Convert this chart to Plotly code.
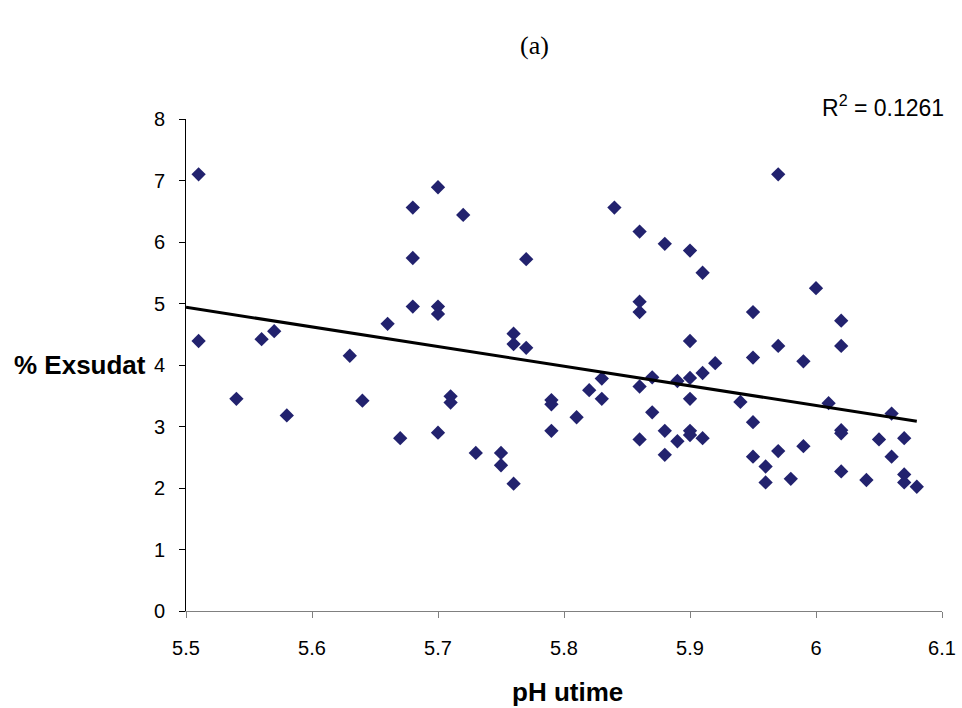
import numpy as np
import plotly.graph_objects as go

ph = [5.51, 5.51, 5.54, 5.56, 5.57, 5.58, 5.63, 5.64, 5.66, 5.67,
      5.68, 5.68, 5.68, 5.70, 5.70, 5.70, 5.70, 5.71, 5.71, 5.72,
      5.73, 5.75, 5.75, 5.76, 5.76, 5.76, 5.77, 5.77, 5.79, 5.79,
      5.79, 5.81, 5.82, 5.83, 5.83, 5.84, 5.86, 5.86, 5.86, 5.86,
      5.86, 5.87, 5.87, 5.88, 5.88, 5.88, 5.89, 5.89, 5.90, 5.90,
      5.90, 5.90, 5.90, 5.90, 5.91, 5.91, 5.91, 5.92, 5.94, 5.95,
      5.95, 5.95, 5.95, 5.96, 5.96, 5.97, 5.97, 5.97, 5.98, 5.99,
      5.99, 6.00, 6.01, 6.02, 6.02, 6.02, 6.02, 6.02, 6.04, 6.05,
      6.06, 6.06, 6.07, 6.07, 6.07, 6.08]
exsudat = [7.10, 4.39, 3.45, 4.42, 4.55, 3.18, 4.15, 3.42, 4.67, 2.81,
           6.56, 5.74, 4.95, 6.89, 4.95, 4.83, 2.90, 3.49, 3.39, 6.44,
           2.57, 2.57, 2.37, 4.51, 4.34, 2.07, 5.72, 4.28, 3.43, 3.36,
           2.93, 3.15, 3.59, 3.78, 3.45, 6.56, 6.17, 5.03, 4.86, 3.65,
           2.79, 3.80, 3.23, 5.97, 2.93, 2.54, 3.74, 2.76, 5.86, 4.39,
           3.79, 3.45, 2.93, 2.86, 5.50, 3.87, 2.81, 4.03, 3.40, 4.86,
           4.12, 3.07, 2.51, 2.35, 2.09, 7.10, 4.31, 2.60, 2.15, 4.06,
           2.68, 5.25, 3.38, 4.72, 4.31, 2.94, 2.89, 2.27, 2.13, 2.79,
           3.21, 2.51, 2.81, 2.22, 2.09, 2.02]
trend_x_range = [5.5, 6.08]
r2_label = "R<sup>2</sup> = 0.1261"
x_ticks = [5.5, 5.6, 5.7, 5.8, 5.9, 6.0, 6.1]
x_tick_text = ["5.5", "5.6", "5.7", "5.8", "5.9", "6", "6.1"]
y_ticks = [0, 1, 2, 3, 4, 5, 6, 7, 8]

slope, intercept = np.polyfit(ph, exsudat, 1)
tx = np.array(trend_x_range)
ty = slope * tx + intercept

fig = go.Figure()
fig.add_trace(go.Scatter(
    x=ph, y=exsudat, mode="markers",
    marker=dict(symbol="diamond", size=11, color="#22226E", line=dict(width=0)),
    showlegend=False, cliponaxis=False))
fig.add_trace(go.Scatter(
    x=tx, y=ty, mode="lines", line=dict(color="black", width=3),
    showlegend=False, cliponaxis=False))

L, R, T, B = 186, 20, 119, 97
W, H = 962, 708
pw, ph_ = W - L - R, H - T - B

def px(x):
    return (x - L) / pw

def py(y):
    return (H - B - y) / ph_

def ann(text, x, y, size, **kw):
    d = dict(text=text, x=px(x), y=py(y), xref="paper", yref="paper",
             xanchor="center", yanchor="middle", showarrow=False,
             font=dict(size=size, color="black"))
    d.update(kw)
    return d

fig.update_layout(
    width=W, height=H,
    margin=dict(l=L, r=R, t=T, b=B, autoexpand=False),
    paper_bgcolor="white", plot_bgcolor="white",
    font=dict(family="Liberation Sans, Arial, sans-serif", color="black"),
    xaxis=dict(range=[5.5, 6.1], tickvals=x_ticks, ticktext=x_tick_text,
               showgrid=False, zeroline=False, showline=True, linecolor="#808080",
               linewidth=1, ticks="outside", ticklen=6, tickcolor="#808080",
               automargin=False,
               tickfont=dict(size=20, color="black"), ticklabelstandoff=13),
    yaxis=dict(range=[0, 8], tickvals=y_ticks, showgrid=False, zeroline=False,
               showline=True, linecolor="black", linewidth=1, ticks="outside",
               ticklen=6, tickcolor="black", automargin=False,
               tickfont=dict(size=20, color="black"), ticklabelstandoff=10),
    annotations=[
        ann("<b>% Exsudat</b>", 80, 365, 26),
        ann("<b>pH utime</b>", 567, 692, 26),
        ann(r2_label, 946, 106, 23, xanchor="right"),
        ann("(a)", 534, 45, 26,
            font=dict(size=26, color="black",
                      family="Liberation Serif, Times New Roman, serif")),
    ],
)

fig.write_html("out.html", config={"displayModeBar": False},
               post_script="document.body.style.margin='0';")
